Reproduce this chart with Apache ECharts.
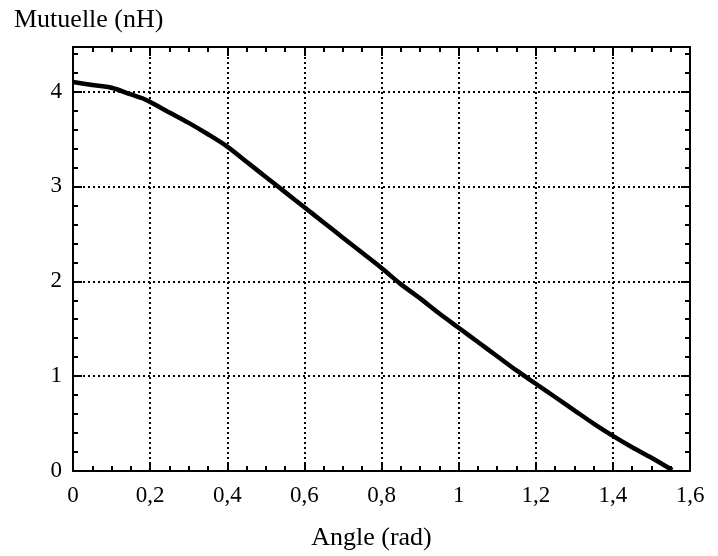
<!DOCTYPE html>
<html>
<head>
<meta charset="utf-8">
<script src="https://cdn.jsdelivr.net/npm/echarts@6/dist/echarts.min.js"></script>
<style>html,body{margin:0;padding:0;background:#fff}#c{width:718px;height:556px}</style>
</head>
<body>
<div id="c"></div>
<script>
const angles = [0, 0.05, 0.1, 0.15, 0.18, 0.2, 0.25, 0.3, 0.35, 0.4, 0.45, 0.5, 0.55, 0.6, 0.65, 0.7, 0.75, 0.8, 0.85, 0.9, 0.95, 1.0, 1.05, 1.1, 1.15, 1.2, 1.25, 1.3, 1.35, 1.4, 1.45, 1.5, 1.554];
const mutuelle = [4.10, 4.07, 4.04, 3.97, 3.93, 3.89, 3.78, 3.67, 3.55, 3.42, 3.26, 3.10, 2.94, 2.78, 2.62, 2.46, 2.30, 2.14, 1.97, 1.82, 1.66, 1.51, 1.36, 1.21, 1.06, 0.92, 0.78, 0.64, 0.50, 0.37, 0.25, 0.14, 0.01];
const xTicks = ['0', '0,2', '0,4', '0,6', '0,8', '1', '1,2', '1,4', '1,6'];
const yTicks = ['0', '1', '2', '3', '4'];

const FONT = '"Liberation Serif", "Times New Roman", serif';
const chart = echarts.init(document.getElementById('c'), null, {renderer: 'canvas'});
const axisLine = {show: true, onZero: false, lineStyle: {color: '#000', width: 2}};
const tick = {show: true, inside: true, length: 9, lineStyle: {color: '#000', width: 2}};
const minorTick = {show: true, length: 5, lineStyle: {color: '#000', width: 2}};
const dotted = {show: true, lineStyle: {color: '#000', width: 2, type: [2, 3]}};

function xLabel(v) {
  const i = Math.round(v / 0.2);
  return Math.abs(i * 0.2 - v) < 1e-6 ? (xTicks[i] || '') : '';
}
function yLabel(v) {
  const i = Math.round(v);
  return Math.abs(i - v) < 1e-6 ? (yTicks[i] || '') : '';
}

chart.setOption({
  animation: false,
  backgroundColor: '#fff',
  title: {
    text: 'Mutuelle (nH)', left: 9, top: 2,
    textStyle: {fontFamily: FONT, fontSize: 26, fontWeight: 'normal', color: '#000'}
  },
  grid: {left: 73, right: 28, top: 47, bottom: 82},
  xAxis: [{
    type: 'value', min: 0, max: 1.6, interval: 0.2,
    name: 'Angle (rad)', nameLocation: 'middle', nameGap: 54,
    nameTextStyle: {fontFamily: FONT, fontSize: 26, color: '#000', padding: [0, 20, 0, 0]},
    axisLine: axisLine, axisTick: tick,
    minorTick: Object.assign({splitNumber: 4}, minorTick),
    splitLine: dotted,
    axisLabel: {formatter: xLabel, fontFamily: FONT, fontSize: 23, color: '#000', margin: 13}
  }, {
    type: 'value', position: 'top', min: 0, max: 1.6, interval: 0.2,
    axisLine: axisLine, axisTick: tick,
    minorTick: Object.assign({splitNumber: 4}, minorTick),
    splitLine: {show: false}, axisLabel: {show: false}
  }],
  yAxis: [{
    type: 'value', min: 0, max: 4.47, interval: 1,
    axisLine: axisLine, axisTick: tick,
    minorTick: Object.assign({splitNumber: 5}, minorTick),
    splitLine: dotted,
    axisLabel: {formatter: yLabel, fontFamily: FONT, fontSize: 23, color: '#000', margin: 11}
  }, {
    type: 'value', position: 'right', min: 0, max: 4.47, interval: 1,
    axisLine: axisLine, axisTick: tick,
    minorTick: Object.assign({splitNumber: 5}, minorTick),
    splitLine: {show: false}, axisLabel: {show: false}
  }],
  series: [{
    type: 'line', xAxisIndex: 0, yAxisIndex: 0,
    data: angles.map((a, i) => [a, mutuelle[i]]),
    showSymbol: false, smooth: 0.3,
    lineStyle: {color: '#000', width: 4.5}
  }]
});
</script>
</body>
</html>
